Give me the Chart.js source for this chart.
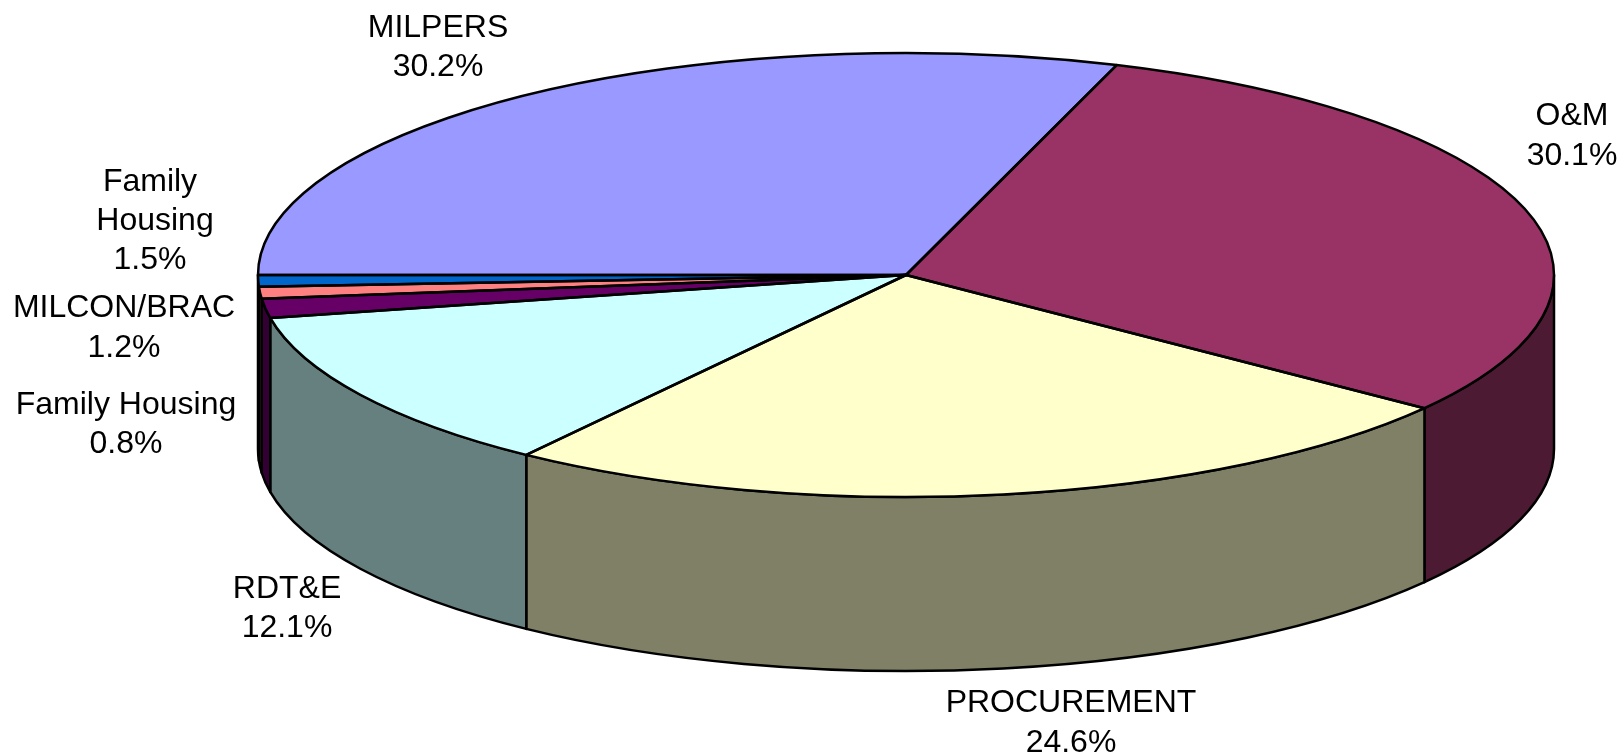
<!DOCTYPE html>
<html>
<head>
<meta charset="utf-8">
<title>Budget shares</title>
<script src="https://cdn.jsdelivr.net/npm/chart.js@4/dist/chart.umd.min.js"></script>
<style>
  html, body { margin: 0; padding: 0; background: #fff; }
  canvas { display: block; }
</style>
</head>
<body>
<canvas id="piechart" width="1624" height="756"></canvas>
<script>
// clockwise from the 9 o'clock position
const categories = ['MILPERS', 'O&M', 'PROCUREMENT', 'RDT&E', 'Family Housing', 'MILCON/BRAC', 'Family Housing'];
// slice sizes as drawn. they sit close to the printed labels, except the three thin ones
const sliceValues = [30.3, 30.0, 24.75, 11.95, 1.4, 0.85, 0.85];
const printedLabels = ['30.2%', '30.1%', '24.6%', '12.1%', '0.8%', '1.2%', '1.5%'];
const sliceColors = ['#9999FF', '#993366', '#FFFFCC', '#CCFFFF', '#660066', '#FF8080', '#0066CC'];
const wallColors = ['#4D4D80', '#4D1A33', '#808066', '#668080', '#330033', '#804040', '#003366'];

const centerY = 275;
const radiusX = 648;
const radiusY = 222;
const depth = 174;
const lineW = 2.5;

// label placement: centre x and baseline of every line
const labelSpots = [
  { xs: [438, 438], ys: [37, 76] },
  { xs: [1572, 1572], ys: [125, 165] },
  { xs: [1071, 1071], ys: [712, 752] },
  { xs: [287, 287], ys: [598, 637] },
  { xs: [126, 126], ys: [414, 453] },
  { xs: [124, 124], ys: [317, 357] },
  { xs: [150, 155, 150], ys: [191, 230, 269] },
];

const pie3d = {
  id: 'pie3d',
  beforeDatasetsDraw(chart) {
    const ctx = chart.ctx;
    const arcs = chart.getDatasetMeta(0).data;
    const cx = arcs[0].x;

    // side wall, only the front half of the rim shows
    ctx.save();
    ctx.lineWidth = lineW;
    ctx.strokeStyle = '#000';
    ctx.lineJoin = 'round';
    arcs.forEach((arc, i) => {
      const lo = Math.max(arc.startAngle, 0);
      const hi = Math.min(arc.endAngle, Math.PI);
      if (hi <= lo) return;
      ctx.beginPath();
      ctx.ellipse(cx, centerY, radiusX, radiusY, 0, lo, hi);
      ctx.ellipse(cx, centerY + depth, radiusX, radiusY, 0, hi, lo, true);
      ctx.closePath();
      ctx.fillStyle = wallColors[i];
      ctx.fill();
      ctx.stroke();
    });
    ctx.restore();

    // squash the library's round pie into the top face
    ctx.save();
    ctx.translate(0, centerY);
    ctx.scale(1, radiusY / radiusX);
    ctx.translate(0, -arcs[0].y);
  },
  afterDatasetsDraw(chart) {
    const ctx = chart.ctx;
    const arcs = chart.getDatasetMeta(0).data;
    ctx.restore();

    // outlines go on after the restore so the line stays even
    ctx.save();
    ctx.lineWidth = lineW;
    ctx.strokeStyle = '#000';
    ctx.lineJoin = 'round';
    arcs.forEach(arc => {
      ctx.beginPath();
      ctx.moveTo(arc.x, centerY);
      ctx.ellipse(arc.x, centerY, radiusX, radiusY, 0, arc.startAngle, arc.endAngle);
      ctx.closePath();
      ctx.stroke();
    });
    ctx.restore();
  },
  afterDraw(chart) {
    const ctx = chart.ctx;
    ctx.save();
    ctx.font = '32px "Liberation Sans"';
    ctx.fillStyle = '#000';
    ctx.textAlign = 'center';
    ctx.textBaseline = 'alphabetic';
    categories.forEach((name, i) => {
      const spot = labelSpots[i];
      // the top left label wraps onto two lines
      const lines = spot.ys.length === 3 ? name.split(' ') : [name];
      lines.push(printedLabels[i]);
      lines.forEach((line, k) => ctx.fillText(line, spot.xs[k], spot.ys[k]));
    });
    ctx.restore();
  }
};

new Chart(document.getElementById('piechart'), {
  type: 'pie',
  data: {
    labels: categories,
    datasets: [{
      data: sliceValues,
      backgroundColor: sliceColors,
      borderWidth: 0,
      clip: false,
    }]
  },
  options: {
    responsive: false,
    animation: false,
    rotation: -90,
    radius: radiusX,
    layout: { padding: { left: 188 } },
    plugins: {
      legend: { display: false },
      tooltip: { enabled: false },
    },
  },
  plugins: [pie3d],
});
</script>
</body>
</html>
